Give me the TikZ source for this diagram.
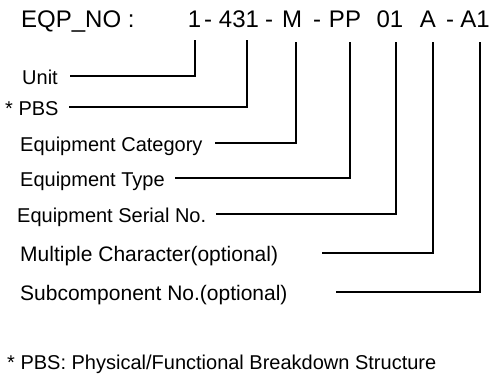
\documentclass[tikz,border=0pt]{standalone}
\usepackage{fontspec}
\setmainfont{Liberation Sans}
\begin{document}
\begin{tikzpicture}[x=1pt,y=-1pt,
  lbl/.style={anchor=base west,inner sep=0pt,font=\fontsize{20}{24}\selectfont},
  biglbl/.style={anchor=base west,inner sep=0pt,font=\fontsize{21}{25}\selectfont},
  hdr/.style={anchor=base,inner sep=0pt,font=\fontsize{24}{28}\selectfont},
  conn/.style={line width=1.5pt}]
\useasboundingbox (0,0) rectangle (493,378);
% header
\node[hdr,anchor=base west] (eqp) at (21,27) {EQP\_NO :};
\node[hdr] (t1) at (194.5,27) {1};
\node[hdr] (d1) at (208,27) {-};
\node[hdr] (t2) at (239,27) {431};
\node[hdr] (d2) at (269,27) {-};
\node[hdr] (t3) at (292,27) {M};
\node[hdr] (d3) at (317,27) {-};
\node[hdr] (t4) at (345,27) {PP};
\node[hdr] (t5) at (390,27) {01};
\node[hdr] (t6) at (428,27) {A};
\node[hdr] (d4) at (450,27) {-};
\node[hdr] (t7) at (475,27) {A1};
% vertical line tops
\coordinate (v1) at (195,40);
\coordinate (v2) at (247,40);
\coordinate (v3) at (296,42);
\coordinate (v4) at (350,42);
\coordinate (v5) at (396,42);
\coordinate (v6) at (433,42);
\coordinate (v7) at (480,42);
% labels
\node[lbl] (unit) at (22,84) {Unit};
\node[lbl] (pbs) at (5,115) {* PBS};
\node[lbl] (cat) at (20,151) {Equipment Category};
\node[lbl] (typ) at (20,186) {Equipment Type};
\node[lbl] (ser) at (17,222) {Equipment Serial No.};
\node[biglbl] (mul) at (20,261) {Multiple Character(optional)};
\node[biglbl] (sub) at (20,300) {Subcomponent No.(optional)};
\node[lbl] (foot) at (7,369) {* PBS: Physical/Functional Breakdown Structure};
% horizontal line starts
\coordinate (h1) at (70,76);
\coordinate (h2) at (69,107);
\coordinate (h3) at (215,143);
\coordinate (h4) at (175,178);
\coordinate (h5) at (216,214);
\coordinate (h6) at (322,253);
\coordinate (h7) at (336,292);
% connectors
\draw[conn] (h1) -| (v1);
\draw[conn] (h2) -| (v2);
\draw[conn] (h3) -| (v3);
\draw[conn] (h4) -| (v4);
\draw[conn] (h5) -| (v5);
\draw[conn] (h6) -| (v6);
\draw[conn] (h7) -| (v7);
\end{tikzpicture}
\end{document}
